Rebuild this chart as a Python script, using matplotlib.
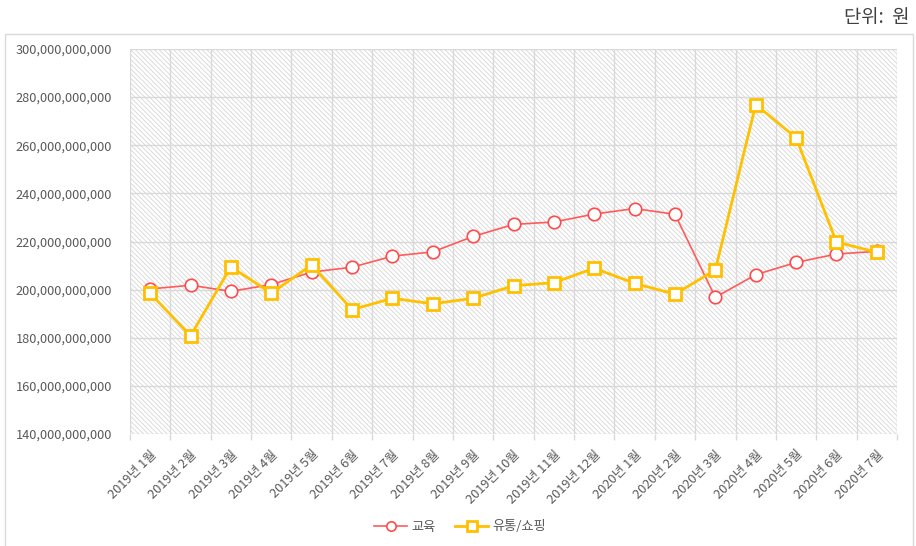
import numpy as np
import matplotlib
matplotlib.use('Agg')
import matplotlib.pyplot as plt
from matplotlib.patches import Rectangle
from matplotlib.ticker import FuncFormatter, MultipleLocator

plt.rcParams['font.family'] = ['Noto Sans CJK KR', 'DejaVu Sans']
plt.rcParams['hatch.linewidth'] = 0.6
plt.rcParams['hatch.color'] = '#d6d6d6'

# data (원)
months = ['2019년 1월', '2019년 2월', '2019년 3월', '2019년 4월', '2019년 5월',
          '2019년 6월', '2019년 7월', '2019년 8월', '2019년 9월', '2019년 10월',
          '2019년 11월', '2019년 12월', '2020년 1월', '2020년 2월', '2020년 3월',
          '2020년 4월', '2020년 5월', '2020년 6월', '2020년 7월']
education = [200.3, 201.8, 199.3, 202.1, 207.3, 209.3, 213.9, 215.7, 222.1, 227.1,
             228.1, 231.4, 233.7, 231.3, 196.8, 206.2, 211.3, 214.8, 215.9]
shopping = [198.5, 180.8, 209.5, 198.5, 210.3, 191.7, 196.4, 194.1, 196.4, 201.6,
            202.9, 208.9, 202.6, 198.1, 208.2, 276.9, 263.1, 219.8, 215.5]
education = np.array(education) * 1e9
shopping = np.array(shopping) * 1e9

fig = plt.figure(figsize=(9.16, 5.46), dpi=100)

# chart frame
fig.patches.append(Rectangle((5 / 916, -0.01), 908 / 916, 1 - 34 / 546 + 0.01,
                             transform=fig.transFigure, fill=False,
                             edgecolor='#d9d9d9', linewidth=1))
fig.text(910 / 916, 1 - 17 / 546, '단위:  원', ha='right', va='center',
         fontsize=13.5, color='#404040')

ax = fig.add_axes([130 / 916, 1 - 434 / 546, 767 / 916, 385 / 546])
x = np.arange(len(months))

# fine diagonal hatch background
ax.add_patch(Rectangle((0, 0), 1, 1, transform=ax.transAxes, facecolor='white',
                       hatch=chr(92) * 7, edgecolor='#d6d6d6', linewidth=0, zorder=0))

ax.plot(x, education, color='#ff5b5b', linewidth=1.2, marker='o', markersize=9,
        markerfacecolor='white', markeredgecolor='#ff4b4b', markeredgewidth=1.2,
        label='교육', zorder=3)
ax.plot(x, shopping, color='#ffc000', linewidth=2, marker='s', markersize=9,
        markerfacecolor='white', markeredgecolor='#ffc000', markeredgewidth=2,
        label='유통/쇼핑', zorder=3)

ax.set_xlim(-0.5, len(months) - 0.5)
ax.set_ylim(140e9, 300e9)
ax.yaxis.set_major_locator(MultipleLocator(20e9))
ax.yaxis.set_major_formatter(FuncFormatter(lambda v, p: f'{v:,.0f}'))
ax.set_xticks(x)
ax.set_xticks(np.arange(-0.5, len(months)), minor=True)
ax.set_xticklabels(months, rotation=45, ha='right', rotation_mode='anchor')

ax.grid(True, axis='y', which='major', color='#d9d9d9', linewidth=1)
ax.grid(True, axis='x', which='minor', color='#d9d9d9', linewidth=1)
ax.set_axisbelow(True)
for s in ax.spines.values():
    s.set_visible(False)

ax.tick_params(axis='y', length=0, pad=13, labelsize=9.2, labelcolor='#595959')
ax.tick_params(axis='x', which='major', length=0, pad=10, labelsize=9.2,
               labelcolor='#595959')
ax.tick_params(axis='x', which='minor', length=4, color='#d9d9d9', width=1)

ax.legend(loc='center', bbox_to_anchor=(460 / 916, 1 - 527 / 546),
          bbox_transform=fig.transFigure, ncol=2, frameon=False, fontsize=9.5,
          labelcolor='#595959', handlelength=2.5, columnspacing=1.5,
          handletextpad=0.3, markerscale=0.75)

fig.savefig('out.png', dpi=100)
